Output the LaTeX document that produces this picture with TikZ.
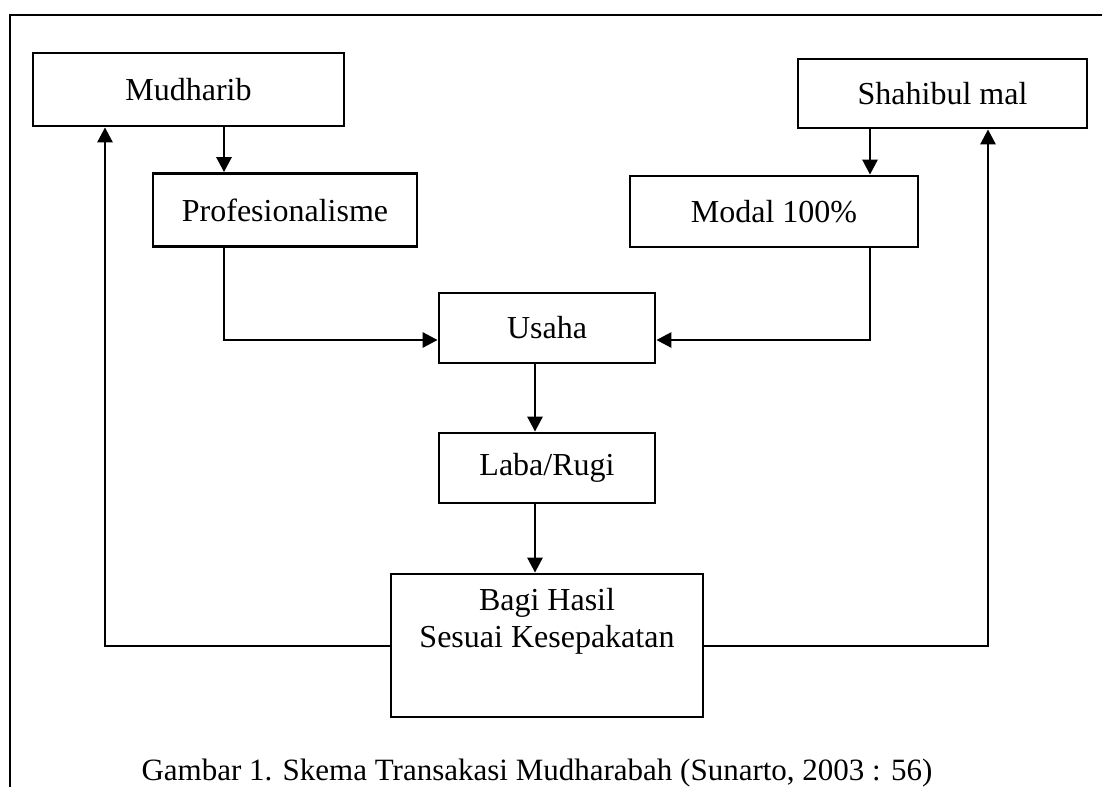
\documentclass[tikz,border=0pt]{standalone}
\usepackage{fontspec}
\setmainfont{Liberation Serif}
\usetikzlibrary{arrows.meta}
\begin{document}
\begin{tikzpicture}[x=1pt,y=-1pt,
  box/.style={draw,line width=2.8pt,minimum width=#1,inner sep=0pt,font=\fontsize{32}{38}\selectfont},
  arr/.style={line width=2.8pt,-{Triangle[length=15pt,width=15pt]}}]
\useasboundingbox (0,0) rectangle (1102,787);
% frame
\coordinate (f1) at (10,787);
\coordinate (f2) at (10,15);
\coordinate (f3) at (1102,15);
\draw[line width=2.6pt] (f1) -- (f2) -- (f3);
% boxes
\node[box=311pt,minimum height=73pt] (mud) at (188.5,89.5) {Mudharib};
\node[box=264pt,minimum height=73pt] (prof) at (285,210) {Profesionalisme};
\node[box=289pt,minimum height=69pt] (shah) at (942.5,93.5) {Shahibul mal};
\node[box=288pt,minimum height=71pt] (modal) at (774,211.5) {Modal 100\%};
\node[box=216pt,minimum height=70pt] (usaha) at (547,328) {Usaha};
\node[box=216pt,minimum height=70pt] (laba) at (547,468) {Laba/Rugi};
\node[box=312pt,minimum height=143pt] (bagi) at (547,645.5) {};
\node[font=\fontsize{32}{37}\selectfont,align=center] (bagitext) at (547,621) {Bagi Hasil\\Sesuai Kesepakatan};
% caption
\node[font=\fontsize{31}{37}\selectfont,anchor=base] (cap) at (537,780) {Gambar 1. Skema Transakasi Mudharabah (Sunarto, 2003 : 56)};
% helper coordinates
\coordinate (xa) at (224,0);
\coordinate (xb) at (870,0);
\coordinate (xc) at (535,0);
\coordinate (yl) at (0,340);
\coordinate (yb) at (0,646);
\coordinate (xl) at (105,0);
\coordinate (xr) at (988,0);
% connectors
\draw[arr] (mud.south -| xa) -- (prof.north -| xa);
\draw[arr] (shah.south -| xb) -- (modal.north -| xb);
\draw[arr] (prof.south -| xa) -- (xa |- yl) -- (usaha.west |- yl);
\draw[arr] (modal.south -| xb) -- (xb |- yl) -- (usaha.east |- yl);
\draw[arr] (usaha.south -| xc) -- (laba.north -| xc);
\draw[arr] (laba.south -| xc) -- (bagi.north -| xc);
\draw[arr] (bagi.west |- yb) -- (xl |- yb) -- (mud.south -| xl);
\draw[arr] (bagi.east |- yb) -- (xr |- yb) -- (shah.south -| xr);
\end{tikzpicture}
\end{document}
